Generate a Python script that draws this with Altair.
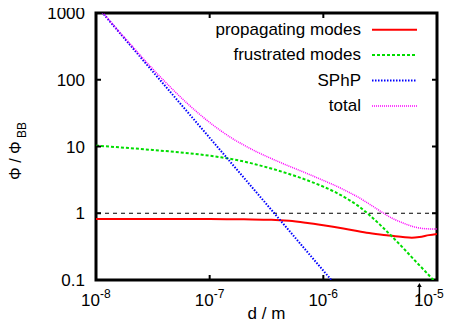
import altair as alt
import pandas as pd

W, H = 341, 267
FONT = "Liberation Sans"
FS = 17

# ---- data ----
series_names = ["propagating modes", "frustrated modes", "SPhP", "total"]

prop_x = [1e-8, 3e-8, 1e-7, 2e-7, 3.5e-7, 5e-7, 7e-7, 1e-6, 1.5e-6, 2.4e-6, 3.6e-6, 5e-6, 6e-6, 7e-6, 8.5e-6, 1e-5]
prop_y = [0.82, 0.82, 0.82, 0.81, 0.80, 0.77, 0.72, 0.66, 0.59, 0.51, 0.47, 0.44, 0.43, 0.44, 0.47, 0.49]

frus_x = [1e-8, 2e-8, 3.16e-8, 5.01e-8, 7.94e-8, 1e-7, 1.26e-7, 1.58e-7, 2e-7, 2.51e-7,
          3.16e-7, 3.98e-7, 5.01e-7, 6.31e-7, 7.94e-7, 1e-6, 1.26e-6, 1.58e-6, 2e-6, 2.51e-6,
          3.16e-6, 3.98e-6, 5.01e-6, 6.31e-6, 7.94e-6, 1e-5]
frus_y = [10.3, 9.44, 8.87, 8.28, 7.64, 7.28, 6.89, 6.46, 5.96, 5.43,
          4.90, 4.38, 3.87, 3.39, 2.93, 2.50, 2.09, 1.69, 1.31, 0.96,
          0.67, 0.455, 0.305, 0.20, 0.133, 0.087]

sphp_x = [1e-8, 3e-8, 1e-7, 3e-7, 1e-6, 1.5e-6]
sphp_y = [1310, 147, 13.5, 1.52, 0.138, 0.062]

total_x = [1e-8, 1.26e-8, 1.58e-8, 2e-8, 2.51e-8, 3.16e-8, 3.98e-8, 5.01e-8, 6.31e-8, 7.94e-8,
           1e-7, 1.26e-7, 1.58e-7, 2e-7, 2.51e-7, 3.16e-7, 3.98e-7, 5.01e-7, 6.31e-7, 7.94e-7,
           1e-6, 1.26e-6, 1.58e-6, 2e-6, 2.51e-6, 3.16e-6, 3.98e-6, 5.01e-6, 6.31e-6, 7.94e-6, 1e-5]
total_y = [1321, 841, 537, 344, 222, 145, 96.2, 64.9, 44.7, 31.6,
           22.9, 17.1, 13.2, 10.5, 8.55, 7.11, 5.98, 5.07, 4.32, 3.67,
           3.10, 2.62, 2.17, 1.76, 1.39, 1.08, 0.851, 0.716, 0.624, 0.586, 0.579]

x_ticks = [1e-8, 1e-7, 1e-6, 1e-5]
x_exps = ["-8", "-7", "-6", "-5"]
y_ticks = [0.1, 1, 10, 100, 1000]
y_labels = ["0.1", "1", "10", "100", "1000"]
ref_level = [1]
arrow_x = [7e-6]

colors = ["#ff0000", "#00dd00", "#0000ff", "#ff00ff"]
dashes = [None, [3, 2], [1.5, 1.5], [1, 1]]
widths = [2, 2, 2, 1.5]
interps = ["monotone", "monotone", "linear", "monotone"]

xsc = alt.Scale(type="log", domain=[1e-8, 1e-5])
ysc = alt.Scale(type="log", domain=[0.1, 1000])


def style(i):
    kw = dict(color=colors[i], strokeWidth=widths[i])
    if dashes[i] is not None:
        kw["strokeDash"] = dashes[i]
    return kw


layers = []

# reference dashed line at 1
layers.append(
    alt.Chart(pd.DataFrame({"y": ref_level}))
    .mark_rule(color="black", strokeWidth=1, strokeDash=[4, 4])
    .encode(y=alt.Y("y:Q", scale=ysc, axis=None))
)

data_sets = [(prop_x, prop_y), (frus_x, frus_y), (sphp_x, sphp_y), (total_x, total_y)]
for i, (xs_, ys_) in enumerate(data_sets):
    df = pd.DataFrame({"x": xs_, "y": ys_})
    layers.append(
        alt.Chart(df)
        .mark_line(clip=True, interpolate=interps[i], **style(i))
        .encode(
            x=alt.X("x:Q", scale=xsc, axis=None),
            y=alt.Y("y:Q", scale=ysc, axis=None),
        )
    )

# inward ticks
xt_inner = pd.DataFrame({"v": x_ticks[1:-1]})
yt_inner = pd.DataFrame({"v": y_ticks[1:-1]})
tick_len = 5
for y0, y1 in [(H, H - tick_len), (0, tick_len)]:
    layers.append(
        alt.Chart(xt_inner).mark_rule(color="black", strokeWidth=2).encode(
            x=alt.X("v:Q", scale=xsc, axis=None), y=alt.value(y0), y2=alt.value(y1)
        )
    )
for x0, x1 in [(0, tick_len), (W, W - tick_len)]:
    layers.append(
        alt.Chart(yt_inner).mark_rule(color="black", strokeWidth=2).encode(
            y=alt.Y("v:Q", scale=ysc, axis=None), x=alt.value(x0), x2=alt.value(x1)
        )
    )

# x tick labels 10^n (last one nudged left so it stays on the page)
xt_main = pd.DataFrame({"v": x_ticks[:-1], "e": x_exps[:-1]})
xt_last = pd.DataFrame({"v": x_ticks[-1:], "e": x_exps[-1:]})
for df_, shift in [(xt_main, 0), (xt_last, -8)]:
    layers.append(
        alt.Chart(df_).mark_text(align="right", baseline="alphabetic", fontSize=FS, dx=4 + shift, font=FONT, color="black").encode(
            x=alt.X("v:Q", scale=xsc, axis=None), y=alt.value(H + 26), text=alt.value("10")
        )
    )
    layers.append(
        alt.Chart(df_).mark_text(align="left", baseline="alphabetic", fontSize=12, dx=4 + shift, font=FONT, color="black").encode(
            x=alt.X("v:Q", scale=xsc, axis=None), y=alt.value(H + 18), text="e:N"
        )
    )

# y tick labels
yt = pd.DataFrame({"v": y_ticks, "t": y_labels})
layers.append(
    alt.Chart(yt).mark_text(align="right", baseline="middle", fontSize=FS, dy=1, font=FONT, color="black").encode(
        y=alt.Y("v:Q", scale=ysc, axis=None), x=alt.value(-11), text="t:N"
    )
)

# axis titles
layers.append(
    alt.Chart(pd.DataFrame({"t": ["d / m"]})).mark_text(align="center", baseline="alphabetic", fontSize=FS, font=FONT, color="black").encode(
        x=alt.value(W / 2), y=alt.value(H + 39), text="t:N"
    )
)
layers.append(
    alt.Chart(pd.DataFrame({"t": ["Φ / Φ"]})).mark_text(align="left", baseline="middle", angle=270, fontSize=16, font=FONT, color="black").encode(
        x=alt.value(-80), y=alt.value(167), text="t:N"
    )
)
layers.append(
    alt.Chart(pd.DataFrame({"t": ["BB"]})).mark_text(align="left", baseline="middle", angle=270, fontSize=12, font=FONT, color="black").encode(
        x=alt.value(-74), y=alt.value(125), text="t:N"
    )
)

# arrow marker
ad = pd.DataFrame({"v": arrow_x})
layers.append(
    alt.Chart(ad).mark_rule(color="black", strokeWidth=1.5).encode(
        x=alt.X("v:Q", scale=xsc, axis=None), y=alt.value(H + 5), y2=alt.value(H + 22)
    )
)
layers.append(
    alt.Chart(ad).mark_point(shape="triangle-up", filled=True, color="black", size=22, opacity=1).encode(
        x=alt.X("v:Q", scale=xsc, axis=None), y=alt.value(H + 5)
    )
)

# legend
for i, name in enumerate(series_names):
    ry = 16.7 + 25.4 * i
    layers.append(
        alt.Chart(pd.DataFrame({"t": [name]})).mark_text(align="right", baseline="middle", fontSize=FS, font=FONT, color="black").encode(
            x=alt.value(265), y=alt.value(ry), text="t:N"
        )
    )
    layers.append(
        alt.Chart(pd.DataFrame({"t": [name]})).mark_rule(**style(i)).encode(
            x=alt.value(276), x2=alt.value(321), y=alt.value(ry)
        )
    )

chart = (
    alt.layer(*layers)
    .properties(
        width=W,
        height=H,
        autosize=alt.AutoSizeParams(type="none"),
        padding={"left": 88, "top": 5, "right": 8, "bottom": 43},
        background="white",
    )
    .configure_view(stroke="black", strokeWidth=3)
)

chart.save("out.html", embed_options={"renderer": "svg", "actions": False})
